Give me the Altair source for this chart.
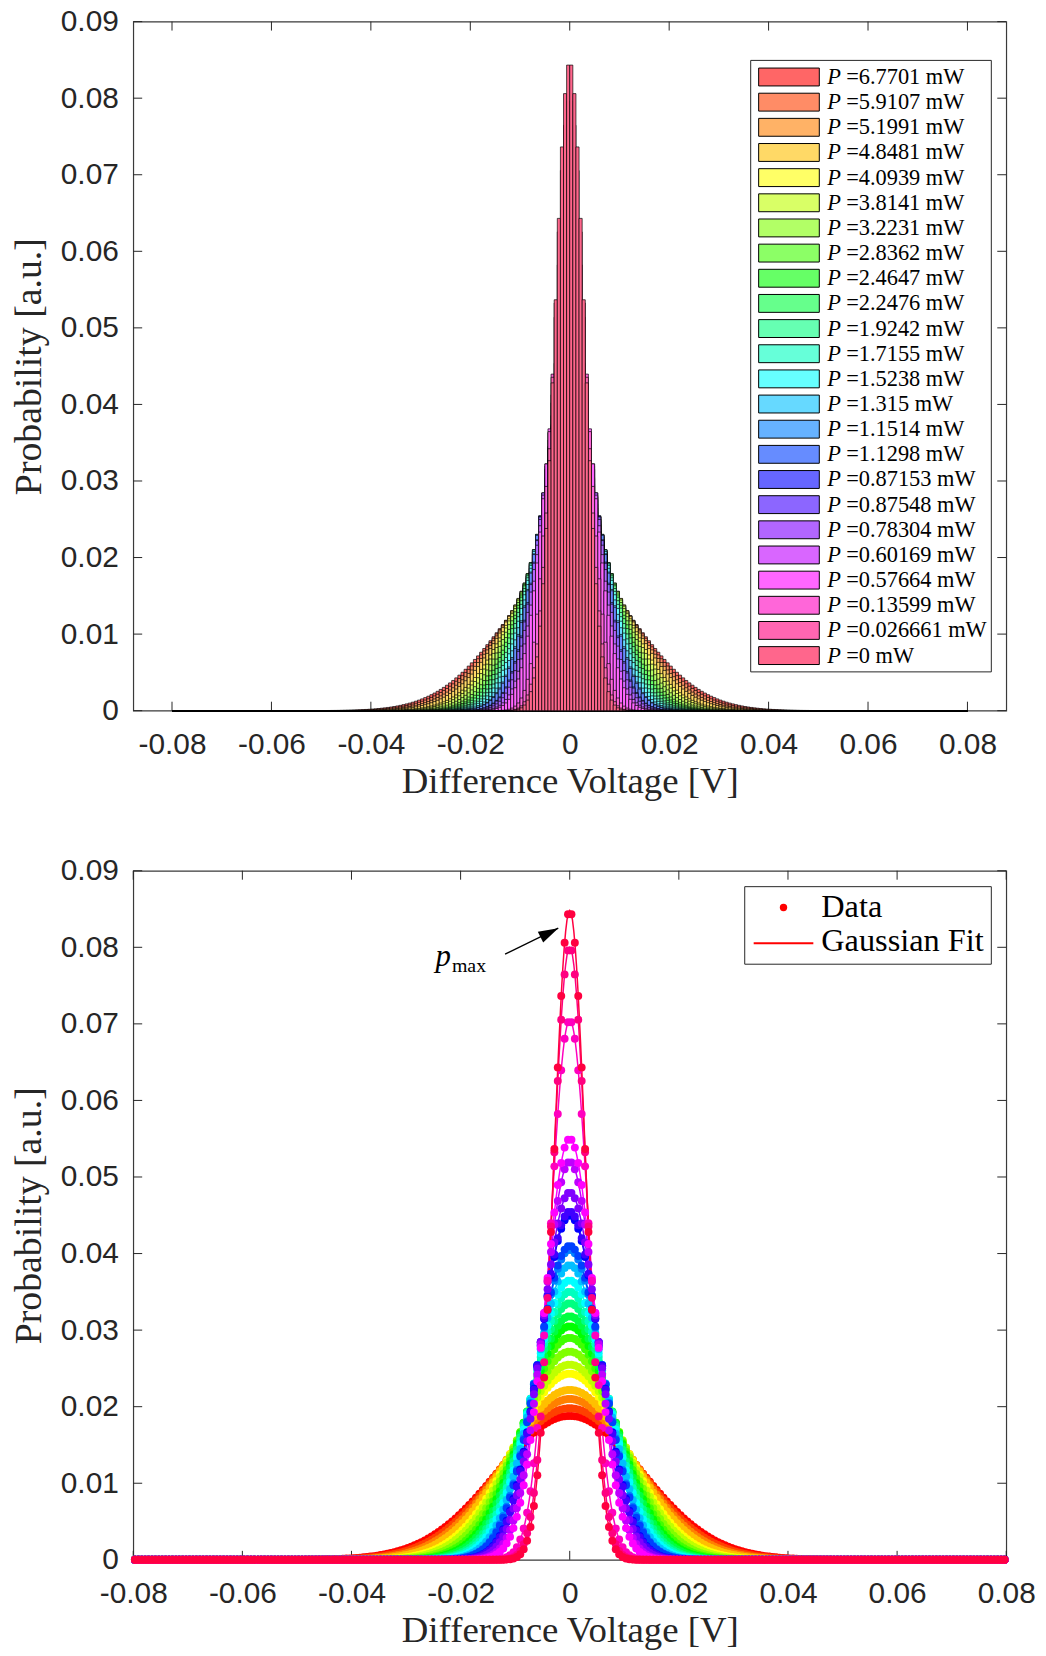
import colorsys
import numpy as np
import pandas as pd
import altair as alt

alt.data_transformers.disable_max_rows()

# Laser power of each recorded series (legend order, highest first)
POWERS_MW = ["6.7701", "5.9107", "5.1991", "4.8481", "4.0939", "3.8141",
             "3.2231", "2.8362", "2.4647", "2.2476", "1.9242", "1.7155",
             "1.5238", "1.315", "1.1514", "1.1298", "0.87153", "0.87548",
             "0.78304", "0.60169", "0.57664", "0.13599", "0.026661", "0"]

# Peak probability p_max of each series' Gaussian fit
PEAK_PROB = [0.0188, 0.0198, 0.0210, 0.0222, 0.0243, 0.0255,
             0.0272, 0.0290, 0.0305, 0.0318, 0.0335, 0.0350,
             0.0365, 0.0385, 0.0405, 0.0410, 0.0450, 0.0455,
             0.0480, 0.0520, 0.0550, 0.0705, 0.0800, 0.0848]

X_TICKS = [-0.08, -0.06, -0.04, -0.02, 0.0, 0.02, 0.04, 0.06, 0.08]
Y_TICKS = [0.0, 0.01, 0.02, 0.03, 0.04, 0.05, 0.06, 0.07, 0.08, 0.09]

N_BINS = 256
V_MIN, V_MAX = -0.08, 0.08

# p_max arrow (tail -> head) and its label, in data units
PMAX_ARROW = {"x": [-0.01185], "y": [0.0791], "x2": [-0.0021], "y2": [0.0825]}
PMAX_LABEL = {"x": [-0.0218], "y": [0.0776], "xs": [-0.0216], "ys": [0.0768]}

# ---------------------------------------------------------------------------
labels = [f"P ={p} mW" for p in POWERS_MW]
rests = [f"={p} mW" for p in POWERS_MW]
n = len(POWERS_MW)


def hsv_hex(k, alpha=1.0):
    r, g, b = colorsys.hsv_to_rgb(k / n, 1.0, 1.0)
    mix = [alpha * c + (1 - alpha) for c in (r, g, b)]
    return "#" + "".join(f"{int(round(c * 255)):02x}" for c in mix)


pure = [hsv_hex(k) for k in range(n)]
light = [hsv_hex(k, 0.6) for k in range(n)]

edges = np.linspace(V_MIN, V_MAX, N_BINS + 1)
bw = edges[1] - edges[0]
centers = 0.5 * (edges[:-1] + edges[1:])
fine = np.linspace(V_MIN, V_MAX, 641)

hist_rows, pt_rows, fit_rows = [], [], []
for k, (lab, peak) in enumerate(zip(labels, PEAK_PROB)):
    sigma = bw / (np.sqrt(2 * np.pi) * peak)
    pb = peak * np.exp(-0.5 * (centers / sigma) ** 2)
    pf = peak * np.exp(-0.5 * (fine / sigma) ** 2)
    for a, b, c, p in zip(edges[:-1], edges[1:], centers, pb):
        hist_rows.append((k, round(a, 6), round(b, 6), float(f"{p:.5g}"), light[k]))
        pt_rows.append((k, round(c, 6), float(f"{p:.5g}"), pure[k]))
    for v, p in zip(fine, pf):
        fit_rows.append((k, round(v, 6), float(f"{p:.5g}"), pure[k]))

hist_df = pd.DataFrame(hist_rows, columns=["k", "x0", "x1", "p", "light"])
hist_df["zero"] = 0.0
pt_df = pd.DataFrame(pt_rows, columns=["k", "v", "p", "hex"])
fit_df = pd.DataFrame(fit_rows, columns=["k", "v", "p", "hex"])
leg_df = pd.DataFrame({"label": labels, "rest": rests, "light": light})
one = pd.DataFrame({"a": [0]})

W, H = 878, 693
TICK = 9
INK = "#262626"
label_expr = "datum.value == 0 ? '0' : replace(format(datum.value, '.2f'), '\u2212', '-')"


def x_axis():
    return alt.Axis(values=X_TICKS, labelExpr=label_expr, title="Difference Voltage [V]",
                    ticks=False, domain=False, grid=False, labelFlush=False,
                    labelOverlap=False, labelPadding=19, titlePadding=4,
                    labelFont="Liberation Sans", labelFontSize=30, labelColor=INK,
                    titleFont="Liberation Serif", titleFontSize=37,
                    titleFontWeight="normal", titleColor=INK)


def y_axis():
    return alt.Axis(values=Y_TICKS, labelExpr=label_expr, title="Probability [a.u.]",
                    ticks=False, domain=False, grid=False, labelFlush=False,
                    labelOverlap=False, labelPadding=15, titlePadding=12,
                    labelFont="Liberation Sans", labelFontSize=30, labelColor=INK,
                    titleFont="Liberation Serif", titleFontSize=38,
                    titleFontWeight="normal", titleColor=INK)


y_scale = alt.Scale(domain=[0, 0.09], nice=False, zero=True)


def inward_ticks(xs):
    xt = alt.Chart(pd.DataFrame({"t": X_TICKS})).mark_rule(color=INK, strokeWidth=1)
    yt = alt.Chart(pd.DataFrame({"t": Y_TICKS})).mark_rule(color=INK, strokeWidth=1)
    xenc = alt.X("t:Q", scale=xs, axis=x_axis())
    yenc = alt.Y("t:Q", scale=y_scale, axis=y_axis())
    return [
        xt.encode(x=xenc, y=alt.value(H), y2=alt.value(H - TICK)),
        xt.encode(x=xenc, y=alt.value(0), y2=alt.value(TICK)),
        yt.encode(y=yenc, x=alt.value(0), x2=alt.value(TICK)),
        yt.encode(y=yenc, x=alt.value(W), x2=alt.value(W - TICK)),
    ]


# ---------------- top panel: overlaid histograms ----------------
xs_top = alt.Scale(domain=[-0.0878, 0.0878], nice=False, zero=False)

hist = alt.Chart(hist_df).mark_rect(stroke="black", strokeWidth=0.8, strokeOpacity=0.85).encode(
    x=alt.X("x0:Q", scale=xs_top, axis=x_axis()),
    x2="x1:Q",
    y=alt.Y("p:Q", scale=y_scale, axis=y_axis()),
    y2="zero:Q",
    fill=alt.Fill("light:N", scale=None),
)

leg_y = alt.Y("label:N", axis=None,
              scale=alt.Scale(type="band", domain=labels, range=[43.05, 650.25],
                              paddingInner=0.289, paddingOuter=0.1445))
leg_box = alt.Chart(one).mark_rect(fill="white", stroke=INK, strokeWidth=1).encode(
    x=alt.value(621), x2=alt.value(863), y=alt.value(39), y2=alt.value(654))
leg_sw = alt.Chart(leg_df).mark_rect(stroke="black", strokeWidth=1).encode(
    x=alt.value(629), x2=alt.value(690), y=leg_y, fill=alt.Fill("light:N", scale=None))
leg_p = alt.Chart(leg_df).mark_text(text="P", align="left", baseline="middle",
                                    font="Liberation Serif", fontStyle="italic",
                                    fontSize=22.5, color="black").encode(
    x=alt.value(698), y=leg_y)
leg_tx = alt.Chart(leg_df).mark_text(align="left", baseline="middle", font="Liberation Serif",
                                     fontSize=22.5, color="black").encode(
    x=alt.value(717), y=leg_y, text="rest:N")

top = alt.layer(
    alt.layer(*inward_ticks(xs_top), hist),
    leg_box, leg_sw, leg_p, leg_tx,
).resolve_scale(y="independent").properties(width=W, height=H)

# ---------------- bottom panel: data points and Gaussian fits ----------------
xs_bot = alt.Scale(domain=[V_MIN, V_MAX], nice=False, zero=False)

fits = alt.Chart(fit_df).mark_line(strokeWidth=1.5).encode(
    x=alt.X("v:Q", scale=xs_bot, axis=x_axis()),
    y=alt.Y("p:Q", scale=y_scale, axis=y_axis()),
    color=alt.Color("hex:N", scale=None),
    detail="k:N",
)
points = alt.Chart(pt_df).mark_circle(size=64, opacity=1).encode(
    x=alt.X("v:Q", scale=xs_bot, axis=x_axis()),
    y=alt.Y("p:Q", scale=y_scale, axis=y_axis()),
    color=alt.Color("hex:N", scale=None),
)

arrow_df = pd.DataFrame(PMAX_ARROW)
arrow = alt.Chart(arrow_df).mark_rule(color="black", strokeWidth=1.3).encode(
    x=alt.X("x:Q", scale=xs_bot, axis=x_axis()), x2="x2:Q",
    y=alt.Y("y:Q", scale=y_scale, axis=y_axis()), y2="y2:Q")
head = alt.Chart(arrow_df).mark_point(shape="M0,0 L-2,-0.6 L-2,0.6 Z", size=400, filled=True,
                                      color="black", opacity=1, angle=333.4).encode(
    x=alt.X("x2:Q", scale=xs_bot, axis=x_axis()),
    y=alt.Y("y2:Q", scale=y_scale, axis=y_axis()))
lab_df = pd.DataFrame(PMAX_LABEL)
p_txt = alt.Chart(lab_df).mark_text(text="p", font="Liberation Serif", fontStyle="italic",
                                    fontSize=31, align="right", baseline="alphabetic",
                                    color="black").encode(
    x=alt.X("x:Q", scale=xs_bot, axis=x_axis()),
    y=alt.Y("y:Q", scale=y_scale, axis=y_axis()))
max_txt = alt.Chart(lab_df).mark_text(text="max", font="Liberation Serif", fontSize=20,
                                      align="left", baseline="alphabetic", color="black").encode(
    x=alt.X("xs:Q", scale=xs_bot, axis=x_axis()),
    y=alt.Y("ys:Q", scale=y_scale, axis=y_axis()))

b_box = alt.Chart(one).mark_rect(fill="white", stroke=INK, strokeWidth=1).encode(
    x=alt.value(615), x2=alt.value(863), y=alt.value(16), y2=alt.value(94))
b_dot = alt.Chart(one).mark_circle(size=55, color="#ff0000", opacity=1).encode(
    x=alt.value(654), y=alt.value(37))
b_line = alt.Chart(one).mark_rule(color="#ff0000", strokeWidth=2).encode(
    x=alt.value(624), x2=alt.value(684), y=alt.value(73))
b_t1 = alt.Chart(one).mark_text(align="left", baseline="middle", font="Liberation Serif",
                                fontSize=32.5, color="black").encode(
    x=alt.value(692), y=alt.value(37), text=alt.value("Data"))
b_t2 = alt.Chart(one).mark_text(align="left", baseline="middle", font="Liberation Serif",
                                fontSize=32.5, color="black").encode(
    x=alt.value(692), y=alt.value(71), text=alt.value("Gaussian Fit"))

bottom = alt.layer(
    *inward_ticks(xs_bot), fits, points, arrow, head, p_txt, max_txt,
    b_box, b_line, b_dot, b_t1, b_t2,
).properties(width=W, height=H)

chart = alt.vconcat(top, bottom, spacing=55).properties(
    padding={"left": 10, "top": 1, "right": 10, "bottom": 0},
    background="white",
).configure_view(stroke="#3a3a3a", strokeWidth=1.2)

chart.save("out.html", embed_options={"renderer": "svg", "actions": False})
